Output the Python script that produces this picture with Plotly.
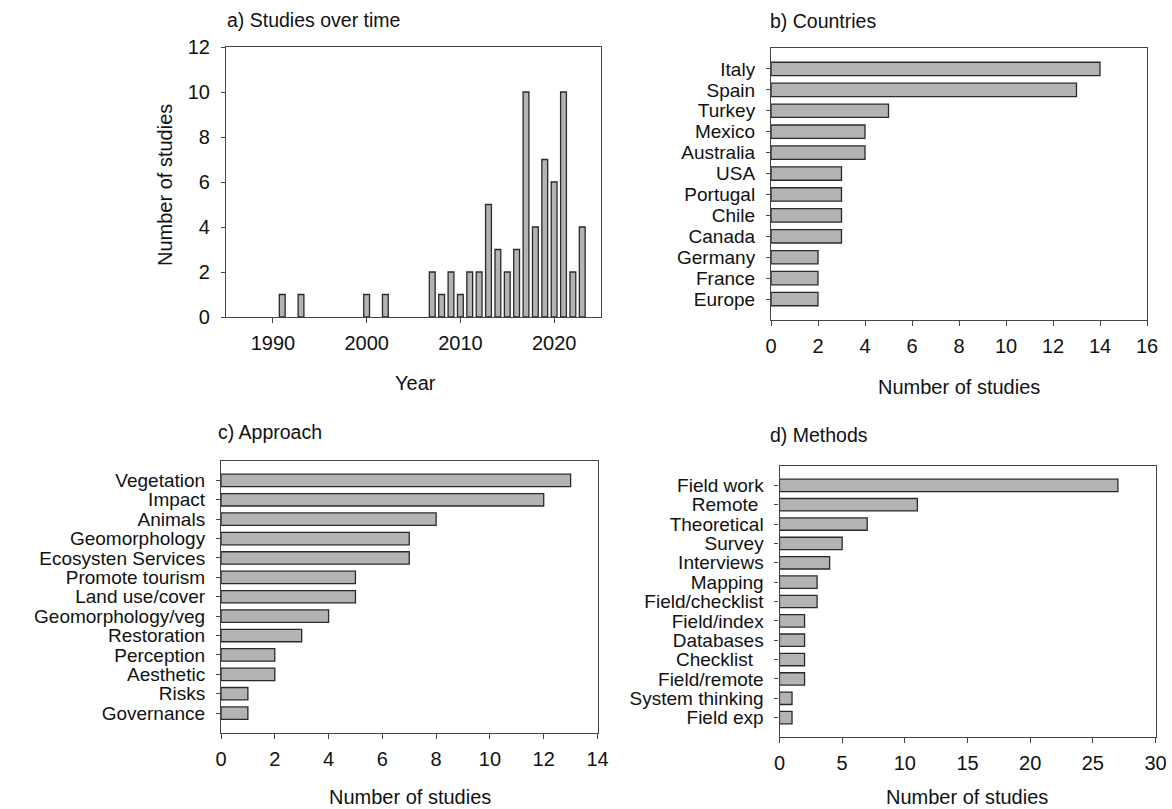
import plotly.graph_objects as go

# ---- data ----
years = [1991, 1993, 2000, 2002, 2007, 2008, 2009, 2010, 2011, 2012, 2013, 2014,
         2015, 2016, 2017, 2018, 2019, 2020, 2021, 2022, 2023]
studies_per_year = [1, 1, 1, 1, 2, 1, 2, 1, 2, 2, 5, 3, 2, 3, 10, 4, 7, 6, 10, 2, 4]

countries = ["Italy", "Spain", "Turkey", "Mexico", "Australia", "USA", "Portugal",
             "Chile", "Canada", "Germany", "France", "Europe"]
country_counts = [14, 13, 5, 4, 4, 3, 3, 3, 3, 2, 2, 2]

approaches = ["Vegetation", "Impact", "Animals", "Geomorphology", "Ecosysten Services",
              "Promote tourism", "Land use/cover", "Geomorphology/veg", "Restoration",
              "Perception", "Aesthetic", "Risks", "Governance"]
approach_counts = [13, 12, 8, 7, 7, 5, 5, 4, 3, 2, 2, 1, 1]

methods = ["Field work", "Remote ", "Theoretical", "Survey", "Interviews", "Mapping",
           "Field/checklist", "Field/index", "Databases", "Checklist  ", "Field/remote",
           "System thinking", "Field exp"]
method_counts = [27, 11, 7, 5, 4, 3, 3, 2, 2, 2, 2, 1, 1]

W, H = 1172, 809
FONT = "Arial, 'Liberation Sans', Helvetica, sans-serif"
FILL = "#b3b3b3"
EDGE = "#2a2a2a"
TS = 20      # numeric tick labels and axis titles
CS = 19      # category tick labels


def px(x):
    return x / W


def py(y):
    return 1 - y / H


fig = go.Figure()

bar_style = dict(marker=dict(color=FILL, line=dict(color=EDGE, width=1.3)), showlegend=False)

fig.add_trace(go.Bar(x=years, y=studies_per_year, width=0.62, xaxis="x", yaxis="y", **bar_style))
fig.add_trace(go.Bar(y=countries, x=country_counts, orientation="h", width=0.64,
                     xaxis="x2", yaxis="y2", **bar_style))
fig.add_trace(go.Bar(y=approaches, x=approach_counts, orientation="h", width=0.64,
                     xaxis="x3", yaxis="y3", **bar_style))
fig.add_trace(go.Bar(y=methods, x=method_counts, orientation="h", width=0.64,
                     xaxis="x4", yaxis="y4", **bar_style))

axis_common = dict(showline=True, linecolor="#444", linewidth=1.1, mirror=True,
                   ticks="outside", tickcolor="#444", tickwidth=1, showgrid=False,
                   zeroline=False, automargin=False)


def cat_axis(cats, domain, anchor):
    return dict(domain=domain, anchor=anchor, type="category",
                categoryorder="array", categoryarray=cats[::-1],
                tickmode="array", tickvals=cats, ticktext=cats,
                tickfont=dict(size=CS, color="#111", family=FONT),
                range=[-1, len(cats)], ticklen=4, ticklabelstandoff=7, **axis_common)


def num_xaxis(domain, anchor, rng, dtick):
    return dict(domain=domain, anchor=anchor, range=rng, dtick=dtick, ticklen=5,
                tickfont=dict(size=TS, color="#111", family=FONT),
                ticklabelstandoff=3, **axis_common)


fig.update_layout(
    width=W, height=H, margin=dict(l=0, r=0, t=0, b=0),
    paper_bgcolor="white", plot_bgcolor="white",
    font=dict(family=FONT, color="#111", size=TS),
    # panel a
    xaxis=dict(domain=[px(226), px(601)], anchor="y", range=[1985, 2025],
               tickmode="array", tickvals=[1990, 2000, 2010, 2020], ticklen=5,
               tickfont=dict(size=TS, color="#111", family=FONT),
               ticklabelstandoff=3, **axis_common),
    yaxis=dict(domain=[py(317), py(47)], anchor="x", range=[0, 12], dtick=2, ticklen=4,
               tickfont=dict(size=TS, color="#111", family=FONT),
               ticklabelstandoff=7, **axis_common),
    # panel b
    xaxis2=num_xaxis([px(771), px(1147)], "y2", [0, 16], 2),
    yaxis2=cat_axis(countries, [py(320), py(48)], "x2"),
    # panel c
    xaxis3=num_xaxis([px(221), px(597.5)], "y3", [0, 14], 2),
    yaxis3=cat_axis(approaches, [py(732.5), py(461)], "x3"),
    # panel d
    xaxis4=num_xaxis([px(779.5), px(1155.5)], "y4", [0, 30], 5),
    yaxis4=cat_axis(methods, [py(737), py(466)], "x4"),
)

ann = []


def text(x, y, s, size=TS, angle=0, xanchor="left"):
    ann.append(dict(x=px(x), y=py(y), xref="paper", yref="paper", text=s, showarrow=False,
                    xanchor=xanchor, yanchor="middle", textangle=angle,
                    font=dict(size=size, family=FONT, color="#111")))


# panel titles
text(225, 20, "a) Studies over time", 19.5)
text(768, 21, "b) Countries", 19.5)
text(216, 432, "c) Approach", 19.5)
text(768, 435, "d) Methods", 19.5)
# axis titles
text(165, 185, "Number of studies", TS, angle=-90, xanchor="center")
text(415, 383, "Year", TS, xanchor="center")
text(959, 387, "Number of studies", TS, xanchor="center")
text(410, 797, "Number of studies", TS, xanchor="center")
text(967, 797, "Number of studies", TS, xanchor="center")

fig.update_layout(annotations=ann)

# remove the default page margin so the figure fills the 1172x809 window exactly
fig.write_html("out.html", config={"displayModeBar": False},
               post_script="document.body.style.margin='0px';document.body.style.overflow='hidden';")
